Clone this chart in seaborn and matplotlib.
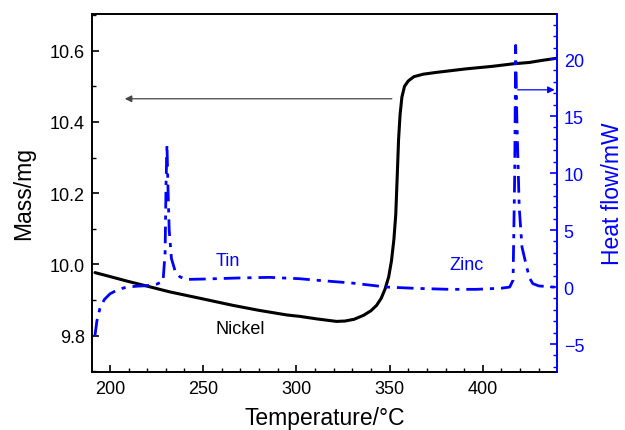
import matplotlib
matplotlib.use("Agg")
import matplotlib.pyplot as plt
import seaborn as sns
import pandas as pd

# ---- data ----
mass_T = [192, 200, 210, 220, 232, 250, 266, 280, 295, 302, 311, 317, 321.5, 326, 331, 336,
          340, 343, 345.5, 347.5, 349.5, 351.0, 352.3, 353.3, 354.1, 354.8, 355.6, 356.6,
          358.0, 360.0, 363.0, 368.0, 375.0, 391, 405, 416, 425, 432, 440]
mass_mg = [9.977, 9.966, 9.952, 9.939, 9.923, 9.903, 9.885, 9.871, 9.858, 9.854, 9.847, 9.843,
           9.840, 9.841, 9.846, 9.857, 9.870, 9.885, 9.905, 9.930, 9.965, 10.010, 10.070,
           10.140, 10.250, 10.350, 10.420, 10.470, 10.500, 10.515, 10.527, 10.534, 10.539,
           10.549, 10.556, 10.563, 10.567, 10.573, 10.579]

hf_T = [192, 193, 194.6, 197, 200, 204, 209, 215, 220, 225, 228.5, 229.6, 230.1, 230.6,
        231.1, 231.8, 233, 235, 237.5, 241, 250, 260, 270, 285.8, 301.8, 310.8, 330,
        348.3, 365, 382, 396.5, 410, 414.4, 416.2, 417.1, 417.6, 418.2, 419.5, 421, 423.3,
        425, 426.8, 430, 437.5, 440]
hf_mW = [-4.25, -3.0, -1.9, -1.1, -0.6, -0.25, 0.0, 0.08, 0.12, 0.25, 0.5, 3.0, 9.0, 12.5,
         9.0, 5.0, 2.5, 1.4, 0.9, 0.67, 0.7, 0.75, 0.8, 0.85, 0.73, 0.6, 0.35, 0.0, -0.12,
         -0.2, -0.2, -0.1, 0.0, 0.6, 10.0, 21.2, 15.0, 7.0, 3.5, 1.9, 0.8, 0.3, 0.1, 0.0, 0.0]

xlim = (190.4, 439.6)
mass_lim = (9.698, 10.703)
hf_lim = (-7.45, 23.95)

sns.set_style("ticks")
plt.rcParams["font.family"] = ["Liberation Sans", "DejaVu Sans"]
plt.rcParams["text.color"] = "black"
plt.rcParams["axes.labelcolor"] = "black"

fig = plt.figure(figsize=(6.25, 4.31), dpi=100)
ax = fig.add_axes([0.1472, 0.1346, 0.7435, 0.8306])
ax2 = ax.twinx()

blue = "#0000ff"

df_m = pd.DataFrame({"T": mass_T, "m": mass_mg})
df_h = pd.DataFrame({"T": hf_T, "h": hf_mW})

sns.lineplot(data=df_m, x="T", y="m", ax=ax, color="black", lw=2.2, sort=False)
sns.lineplot(data=df_h, x="T", y="h", ax=ax2, color=blue, lw=2.0, sort=False,
             linestyle=(0, (6, 2.5, 1.5, 2.5)))

ax.set_xlim(*xlim)
ax.set_ylim(*mass_lim)
ax2.set_ylim(*hf_lim)

ax.set_xticks([200, 250, 300, 350, 400])
ax.set_xticks(range(200, 440, 10), minor=True)
ax.set_yticks([9.8, 10.0, 10.2, 10.4, 10.6])
ax.set_yticklabels(["9.8", "10.0", "10.2", "10.4", "10.6"])
ax.set_yticks([9.7, 9.9, 10.1, 10.3, 10.5, 10.7], minor=True)
ax2.set_yticks([-5, 0, 5, 10, 15, 20])
ax2.set_yticklabels(["\u22125", "0", "5", "10", "15", "20"])
ax2.set_yticks(range(-7, 24), minor=True)

ax.tick_params(axis="both", which="major", direction="in", length=5, width=1.2,
               labelsize=13, pad=5, colors="black")
ax.tick_params(axis="both", which="minor", direction="in", length=3, width=1.0,
               colors="black")
ax.tick_params(axis="x", pad=6)
ax2.tick_params(axis="y", which="major", direction="in", length=5, width=1.2,
                labelsize=13, colors=blue, pad=5)
ax2.tick_params(axis="y", which="minor", direction="in", length=3, width=1.0, colors=blue)

for sp in ["left", "bottom", "top"]:
    ax.spines[sp].set_linewidth(1.4)
    ax.spines[sp].set_color("black")
ax2.spines["right"].set_color(blue)
ax2.spines["right"].set_linewidth(1.4)
ax2.spines["left"].set_visible(False)
ax2.spines["top"].set_visible(False)
ax2.spines["bottom"].set_visible(False)
ax.spines["right"].set_visible(False)

ax.set_xlabel("Temperature/\u00b0C", fontsize=16.5, labelpad=6, color="black")
ax.set_ylabel("Mass/mg", fontsize=16.5, labelpad=11, color="black")
ax2.set_ylabel("Heat flow/mW", fontsize=16.5, color=blue, labelpad=12)

# arrows
ax.annotate("", xy=(208, 10.465), xytext=(351.2, 10.465),
            arrowprops=dict(arrowstyle="-|>", color="#444444", lw=0.9,
                            mutation_scale=10, shrinkA=0, shrinkB=0))
ax2.annotate("", xy=(438.5, 17.3), xytext=(418.7, 17.3),
             arrowprops=dict(arrowstyle="-|>", color=blue, lw=0.9,
                             mutation_scale=10, shrinkA=0, shrinkB=0))

# labels
ax2.text(263.3, 2.3, "Tin", color=blue, fontsize=13, ha="center", va="center")
ax2.text(391.2, 2.0, "Zinc", color=blue, fontsize=13, ha="center", va="center")
ax.text(269.7, 9.82, "Nickel", color="black", fontsize=13, ha="center", va="center")

fig.savefig("out.png", dpi=100)
